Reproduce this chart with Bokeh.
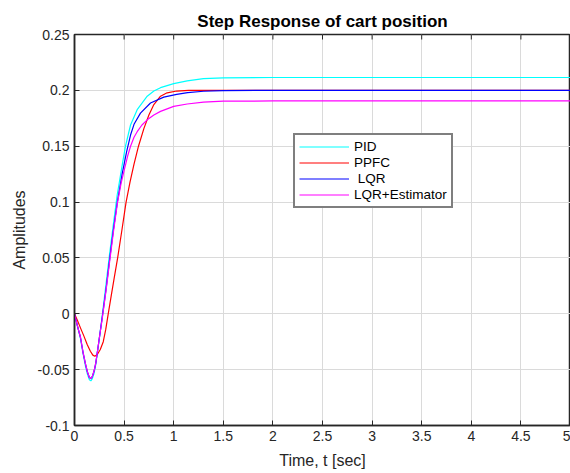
import math
from bokeh.plotting import figure
from bokeh.models import Range1d, FixedTicker, Legend, LegendItem
from bokeh.embed import file_html
from bokeh.resources import INLINE

# ---- data ----
t_pid = [0, 0.03, 0.06, 0.085, 0.111, 0.13, 0.15, 0.165, 0.18, 0.198, 0.215, 0.245, 0.278, 0.317, 0.353, 0.39,
         0.43, 0.48, 0.514, 0.565, 0.632, 0.733, 0.80, 0.867, 1.0, 1.136, 1.3, 1.5, 2.0, 3.0, 4.0, 5.0]
y_pid = [0, -0.011, -0.022, -0.035, -0.047, -0.054, -0.059, -0.060, -0.058, -0.053, -0.045, -0.026, -0.003, 0.026,
         0.053, 0.079, 0.106, 0.1327, 0.15, 0.169, 0.1827, 0.1948, 0.1995, 0.2024, 0.206, 0.2085, 0.2105, 0.2112,
         0.2115, 0.2115, 0.2115, 0.2115]

t_ppfc = [0, 0.03, 0.06, 0.095, 0.128, 0.16, 0.185, 0.205, 0.23, 0.26, 0.29, 0.315, 0.34, 0.37, 0.40, 0.435, 0.478,
          0.52, 0.56, 0.60, 0.645, 0.70, 0.75, 0.80, 0.867, 0.934, 1.03, 1.15, 1.5, 2.0, 3.0, 4.0, 5.0]
y_ppfc = [0, -0.006, -0.0126, -0.020, -0.0275, -0.0335, -0.037, -0.038, -0.0365, -0.032, -0.025, -0.014, 0.0, 0.016,
          0.032, 0.05, 0.075, 0.1, 0.118, 0.134, 0.15, 0.166, 0.178, 0.1873, 0.1948, 0.1978, 0.1994, 0.2, 0.2, 0.2,
          0.2, 0.2, 0.2]

t_lqr = [0, 0.03, 0.06, 0.085, 0.111, 0.13, 0.15, 0.165, 0.18, 0.198, 0.215, 0.245, 0.28, 0.318, 0.356, 0.392,
         0.432, 0.48, 0.525, 0.565, 0.60, 0.665, 0.766, 0.90, 1.03, 1.14, 1.3, 1.5, 2.0, 3.0, 4.0, 5.0]
y_lqr = [0, -0.011, -0.021, -0.034, -0.045, -0.052, -0.057, -0.058, -0.056, -0.051, -0.044, -0.025, -0.003, 0.022,
         0.05, 0.075, 0.1, 0.125, 0.145, 0.16, 0.1696, 0.1796, 0.1887, 0.1939, 0.1964, 0.198, 0.1992, 0.1998, 0.2,
         0.2, 0.2, 0.2]

t_est = [0, 0.03, 0.06, 0.085, 0.111, 0.13, 0.15, 0.165, 0.18, 0.198, 0.215, 0.245, 0.28, 0.318, 0.356, 0.392,
         0.434, 0.47, 0.505, 0.535, 0.565, 0.60, 0.632, 0.68, 0.733, 0.80, 0.867, 1.0, 1.136, 1.3, 1.5, 2.0, 3.0,
         4.0, 5.0]
y_est = [0, -0.011, -0.021, -0.034, -0.045, -0.052, -0.057, -0.058, -0.056, -0.051, -0.044, -0.025, -0.004, 0.021,
         0.048, 0.073, 0.1, 0.117, 0.13, 0.141, 0.15, 0.158, 0.163, 0.169, 0.1736, 0.178, 0.1812, 0.1857, 0.1878,
         0.1895, 0.1903, 0.1905, 0.1905, 0.1905, 0.1905]

series_labels = ["PID", "PPFC", " LQR", "LQR+Estimator"]
series_colors = ["#00ffff", "#ff0000", "#0000ff", "#ff00ff"]

x_ticks = [0, 0.5, 1, 1.5, 2, 2.5, 3, 3.5, 4, 4.5, 5]
x_tick_labels = ["0", "0.5", "1", "1.5", "2", "2.5", "3", "3.5", "4", "4.5", "5"]
y_ticks = [-0.1, -0.05, 0, 0.05, 0.1, 0.15, 0.2, 0.25]
y_tick_labels = ["-0.1", "-0.05", "0", "0.05", "0.1", "0.15", "0.2", "0.25"]

FONT = "Liberation Sans"
DARK = "#262626"

p = figure(width=570, height=473, output_backend="svg", toolbar_location=None,
           x_range=Range1d(x_ticks[0], x_ticks[-1]), y_range=Range1d(y_ticks[0], y_ticks[-1]),
           min_border_left=74, min_border_right=0, min_border_top=34, min_border_bottom=48,
           title="Step Response of cart position")
p.background_fill_color = "white"
p.border_fill_color = "white"
p.outline_line_color = DARK
p.outline_line_width = 1.5

p.title.align = "center"
p.title.text_font = FONT
p.title.text_font_size = "17px"
p.title.text_font_style = "bold"
p.title.text_color = "black"
p.title.standoff = 8

for ax in (p.xaxis[0], p.yaxis[0]):
    ax.axis_line_color = DARK
    ax.axis_line_width = 1.5
    ax.major_tick_in = 5
    ax.major_tick_out = 0
    ax.major_tick_line_color = DARK
    ax.minor_tick_line_color = None
    ax.major_label_text_font = FONT
    ax.major_label_text_font_size = "14px"
    ax.major_label_text_color = DARK
    ax.axis_label_text_font = FONT
    ax.axis_label_text_font_size = "16px"
    ax.axis_label_text_font_style = "normal"
    ax.axis_label_text_color = DARK

p.xaxis[0].ticker = FixedTicker(ticks=x_ticks)
p.xaxis[0].major_label_overrides = {t: s for t, s in zip(x_ticks, x_tick_labels)}
p.xaxis[0].axis_label = "Time, t [sec]"
p.xaxis[0].major_label_standoff = 5
p.xaxis[0].axis_label_standoff = 8

p.yaxis[0].ticker = FixedTicker(ticks=y_ticks)
p.yaxis[0].major_label_overrides = {t: s for t, s in zip(y_ticks, y_tick_labels)}
p.yaxis[0].axis_label = "Amplitudes"
p.yaxis[0].major_label_standoff = 5
p.yaxis[0].axis_label_standoff = 7

p.xgrid.ticker = FixedTicker(ticks=x_ticks)
p.ygrid.ticker = FixedTicker(ticks=y_ticks)
p.grid.grid_line_color = "#dadada"
p.grid.grid_line_width = 1

# inward tick marks along the top edge of the box (half of each dash is clipped away by the frame)
p.scatter(x_ticks, [y_ticks[-1]] * len(x_ticks), marker="dash", angle=math.pi / 2, size=10,
          line_color=DARK, line_width=1)

data = [(t_pid, y_pid), (t_ppfc, y_ppfc), (t_lqr, y_lqr), (t_est, y_est)]
items = []
for (tx, ty), lab, col in zip(data, series_labels, series_colors):
    r = p.line(tx, ty, line_color=col, line_width=1.2, line_alpha=1.0)
    items.append(LegendItem(label=lab, renderers=[r]))

legend = Legend(items=items, location=(219, 217))
legend.label_text_font = FONT
legend.label_text_font_size = "13.5px"
legend.label_text_color = "black"
legend.border_line_color = "black"
legend.border_line_width = 2
legend.background_fill_color = "white"
legend.background_fill_alpha = 1
legend.padding = 4
legend.spacing = 1
legend.margin = 0
legend.glyph_height = 15
legend.label_height = 15
legend.glyph_width = 50
legend.label_standoff = 5
p.add_layout(legend)

open("out.html", "w").write(file_html(p, INLINE))
